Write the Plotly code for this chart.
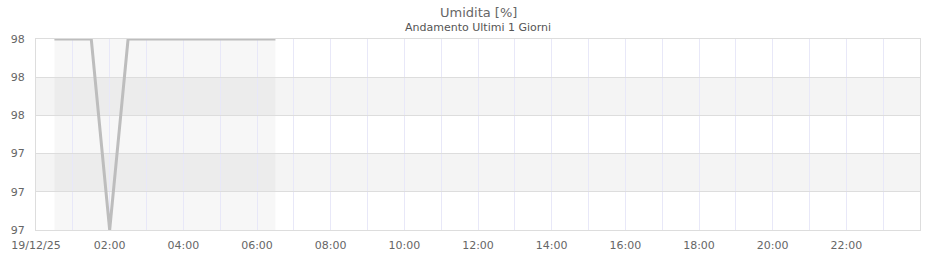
import plotly.graph_objects as go

# ---- data ----
times = [
    "2025-12-19 00:30", "2025-12-19 01:00", "2025-12-19 01:30", "2025-12-19 02:00",
    "2025-12-19 02:30", "2025-12-19 03:00", "2025-12-19 03:30", "2025-12-19 04:00",
    "2025-12-19 04:30", "2025-12-19 05:00", "2025-12-19 05:30", "2025-12-19 06:00",
    "2025-12-19 06:30",
]
humidity = [98, 98, 98, 97, 98, 98, 98, 98, 98, 98, 98, 98, 98]

x_tick_vals = [f"2025-12-19 {h:02d}:00" for h in range(0, 24, 2)]
x_tick_text = ["19/12/25"] + [f"{h:02d}:00" for h in range(2, 24, 2)]
y_tick_vals = [97.0, 97.2, 97.4, 97.6, 97.8, 98.0]
band_ranges = [(97.2, 97.4), (97.6, 97.8)]

title_text = "Umidita [%]"
subtitle_text = "Andamento Ultimi 1 Giorni"

FONT = "DejaVu Sans"

fig = go.Figure()
fig.add_trace(go.Scatter(
    x=times, y=humidity, mode="lines",
    line=dict(color="#bdbdbd", width=3),
    hoverinfo="x+y", showlegend=False,
))

shapes = []
for y0, y1 in band_ranges:
    shapes.append(dict(type="rect", xref="paper", yref="y", x0=0, x1=1, y0=y0, y1=y1,
                       fillcolor="rgba(0,0,0,0.045)", line=dict(width=0), layer="below"))
shapes.append(dict(type="rect", xref="x", yref="paper", x0=times[0], x1=times[-1], y0=0, y1=1,
                   fillcolor="rgba(0,0,0,0.03)", line=dict(width=0), layer="below"))

fig.update_layout(
    width=940, height=260,
    margin=dict(l=36, r=20, t=39, b=30, autoexpand=False),
    paper_bgcolor="white", plot_bgcolor="white",
    font=dict(family=FONT, size=11, color="#666666"),
    shapes=shapes,
    annotations=[
        dict(text=title_text, x=0.5, y=1, xref="paper", yref="paper", yanchor="top",
             xanchor="center", showarrow=False, yshift=36,
             font=dict(family=FONT, size=13, color="#666666")),
        dict(text=subtitle_text, x=0.5, y=1, xref="paper", yref="paper", yanchor="top",
             xanchor="center", showarrow=False, yshift=20,
             font=dict(family=FONT, size=11, color="#555555")),
    ],
    xaxis=dict(
        type="date", automargin=False,
        range=["2025-12-19 00:00", "2025-12-20 00:00"],
        tickvals=x_tick_vals, ticktext=x_tick_text,
        showgrid=True, gridcolor="#e8e8f8", gridwidth=1,
        minor=dict(dtick=3600000, showgrid=True, gridcolor="#e8e8f8", gridwidth=1),
        showline=True, linecolor="#dddddd", linewidth=1, mirror=True,
        ticks="", zeroline=False, ticklabelstandoff=5,
        tickfont=dict(family=FONT, size=11, color="#666666"),
    ),
    yaxis=dict(
        range=[97, 98], automargin=False,
        tickvals=y_tick_vals, tickformat=".0f",
        showgrid=True, gridcolor="#dddddd", gridwidth=1,
        showline=True, linecolor="#dddddd", linewidth=1, mirror=True,
        ticks="", zeroline=False, ticklabelstandoff=8,
        tickfont=dict(family=FONT, size=11, color="#666666"),
    ),
)

fig.write_html("out.html")
